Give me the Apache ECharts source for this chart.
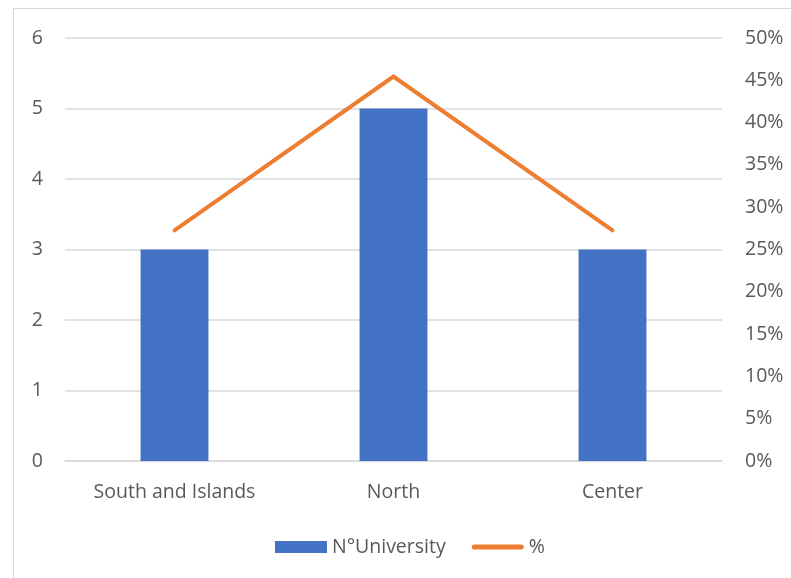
<!DOCTYPE html>
<html>
<head>
<meta charset="utf-8">
<script src="https://cdn.jsdelivr.net/npm/echarts@6/dist/echarts.min.js"></script>
<style>
html,body{margin:0;padding:0;background:#fff;}
#frame{position:absolute;left:13px;top:8px;width:800px;height:600px;border:1.5px solid #d9d9d9;box-sizing:border-box;}
#chart{position:absolute;left:0;top:0;width:791px;height:578px;}
</style>
</head>
<body>
<div id="frame"></div>
<div id="chart"></div>
<script>
const categories = ["South and Islands", "North", "Center"];
const universityCounts = [3, 5, 3];
const percentShares = [27.27, 45.45, 27.27];
const leftTicks = [0, 1, 2, 3, 4, 5, 6];
const rightTicks = [0, 5, 10, 15, 20, 25, 30, 35, 40, 45, 50];

const FONT = "Open Sans";
const FS = 19.5;
const chart = echarts.init(document.getElementById('chart'));
chart.setOption({
  animation: false,
  grid: {left: 65, right: 69, top: 38, bottom: 117, containLabel: false},
  legend: {
    top: 532, left: 270,
    itemGap: 26,
    textStyle: {color: '#595959', fontSize: FS, fontFamily: FONT, padding: [0, 0, 0, 0]},
    data: [
      {name: 'N°University', icon: 'rect', itemStyle: {color: '#4472C4'}},
      {name: '%', icon: 'path://M2.5,0 L49.5,0 A2.5,2.5 0 0 1 49.5,5 L2.5,5 A2.5,2.5 0 0 1 2.5,0 Z', itemStyle: {color: '#ED7D31'}}
    ],
    itemWidth: 52, itemHeight: 12
  },
  xAxis: {
    type: 'category', data: categories,
    axisLine: {lineStyle: {color: '#d9d9d9', width: 1.5}},
    axisTick: {show: false},
    axisLabel: {color: '#595959', fontSize: FS, fontFamily: FONT, margin: 21}
  },
  yAxis: [
    {
      type: 'value', min: leftTicks[0], max: leftTicks[leftTicks.length - 1], interval: 1,
      axisLine: {show: false}, axisTick: {show: false},
      axisLabel: {color: '#595959', fontSize: FS, fontFamily: FONT, margin: 22},
      splitLine: {lineStyle: {color: '#d9d9d9', width: 1.5}}
    },
    {
      type: 'value', min: rightTicks[0], max: rightTicks[rightTicks.length - 1], interval: 5,
      position: 'right',
      axisLine: {show: false}, axisTick: {show: false},
      axisLabel: {color: '#595959', fontSize: FS, fontFamily: FONT, margin: 23, formatter: '{value}%'},
      splitLine: {show: false}
    }
  ],
  series: [
    {
      name: 'N°University', type: 'bar', data: universityCounts, yAxisIndex: 0,
      barWidth: '31%', itemStyle: {color: '#4472C4'}
    },
    {
      name: '%', type: 'line', data: percentShares, yAxisIndex: 1,
      symbol: 'none', lineStyle: {color: '#ED7D31', width: 4, cap: 'round', join: 'miter'},
      itemStyle: {color: '#ED7D31'}
    }
  ]
});
</script>
</body>
</html>
